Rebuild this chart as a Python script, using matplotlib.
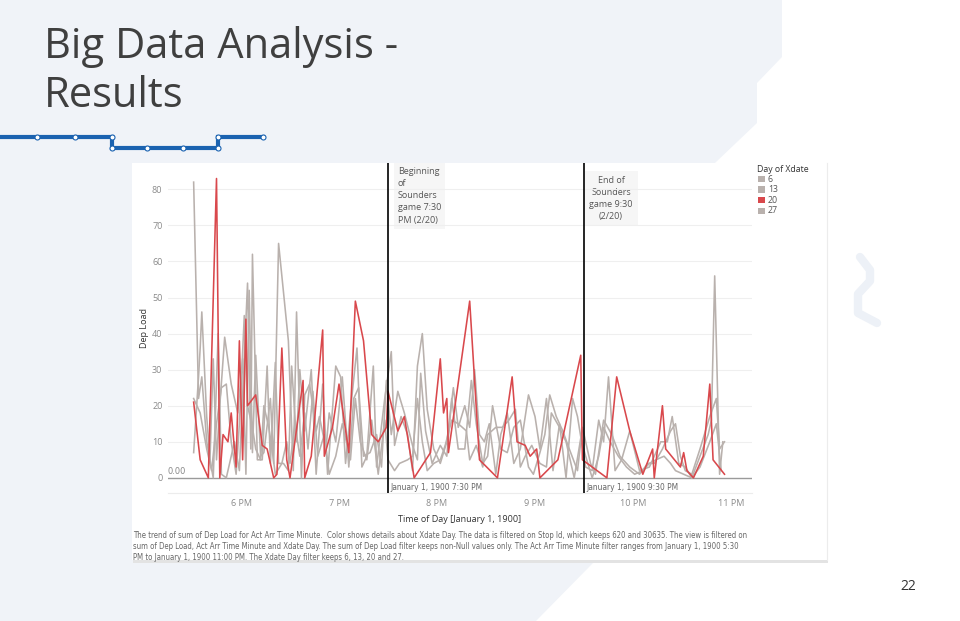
import matplotlib
matplotlib.use("Agg")
import matplotlib.pyplot as plt
from matplotlib.patches import Polygon, Rectangle
from matplotlib import font_manager
import numpy as np

# minutes after 5:00 PM (Act Arr Time Minute) and Dep Load, per Xdate day
days = ["6", "13", "20", "27"]
colors = ["#b9b1ad", "#b9b1ad", "#d9484c", "#b9b1ad"]

min_6 = [31, 34, 36, 39, 43, 46, 48, 51, 56, 59, 64, 66, 67, 70, 73, 76, 78, 81, 83, 86,
         89, 91, 94, 96, 99, 103, 106, 110, 113, 118, 121, 124, 128, 131, 134, 137, 141, 143,
         148, 152, 154, 158, 162, 165, 168, 171, 174, 178, 182, 186, 190, 193, 197, 200, 203,
         206, 209, 212, 216, 219, 223, 227, 231, 236, 240, 243, 247, 251, 255, 259, 263, 266,
         271, 275, 279, 282, 285, 289, 293, 298, 304, 310, 317, 321, 324, 328, 332, 336, 341,
         346, 348, 350, 353, 355]
load_6 = [82, 22, 28, 10, 0, 40, 1, 0, 10, 2, 54, 8, 62, 5, 5, 31, 4, 32, 4, 4,
          2, 31, 10, 30, 13, 30, 1, 26, 1, 31, 28, 4, 23, 36, 3, 6, 31, 3,
          22, 35, 9, 17, 12, 2, 31, 40, 19, 8, 4, 10, 25, 14, 20, 14, 30,
          12, 10, 15, 1, 12, 18, 4, 8, 23, 17, 8, 22, 2, 15, 0, 22, 17,
          3, 2, 16, 10, 28, 2, 5, 13, 2, 3, 10, 10, 17, 4, 3, 0, 6,
          12, 16, 56, 1, 10]

min_13 = [31, 34, 35, 36, 39, 41, 43, 45, 47, 50, 54, 58, 61, 63, 65, 67, 69, 72, 74, 78,
          80, 83, 89, 92, 94, 97, 99, 102, 106, 108, 112, 114, 118, 122, 126, 129, 132, 135,
          139, 143, 146, 149, 152, 156, 160, 165, 168, 170, 173, 177, 182, 186, 189, 193, 197,
          201, 204, 208, 211, 214, 219, 223, 227, 231, 236, 239, 243, 246, 249, 253, 257, 261,
          266, 269, 274, 277, 282, 287, 292, 298, 304, 309, 313, 318, 323, 326, 329, 332, 336,
          341, 347, 351, 353, 356]
load_13 = [7, 28, 36, 46, 17, 5, 33, 5, 20, 39, 26, 18, 33, 1, 52, 7, 34, 6, 7, 22,
           4, 65, 38, 2, 46, 0, 23, 26, 13, 17, 8, 18, 10, 28, 3, 22, 25, 6,
           7, 12, 3, 27, 12, 24, 18, 9, 5, 29, 13, 4, 9, 6, 22, 8, 8,
           27, 15, 4, 6, 20, 8, 7, 14, 16, 3, 1, 7, 12, 23, 17, 13, 8,
           2, 14, 4, 1, 16, 12, 6, 3, 1, 4, 4, 8, 13, 15, 6, 2, 1,
           8, 17, 22, 8, 10]

min_20 = [31, 35, 40, 45, 47, 49, 52, 54, 57, 59, 61, 63, 64, 69, 73, 76, 80, 82, 85, 88,
          90, 98, 99, 103, 110, 111, 116, 120, 126, 130, 135, 140, 144, 149, 150, 156, 160,
          166, 176, 182, 184, 186, 187, 200, 206, 217, 226, 229, 234, 237, 241, 243, 254, 268,
          269, 284, 290, 298, 306, 312, 313, 318, 320, 329, 331, 333, 337, 343, 347, 349, 356]
load_20 = [21, 5, 0, 83, 0, 12, 10, 18, 3, 38, 5, 44, 20, 23, 9, 8, 0, 1, 36, 5,
           0, 27, 0, 6, 41, 6, 14, 26, 7, 49, 38, 12, 10, 14, 24, 13, 17,
           0, 7, 33, 18, 22, 7, 49, 5, 0, 28, 10, 9, 6, 8, 0, 5, 34,
           5, 0, 28, 13, 1, 8, 0, 20, 8, 3, 7, 2, 0, 6, 26, 5, 1]

min_27 = [31, 35, 39, 42, 45, 48, 51, 54, 57, 59, 62, 64, 67, 69, 72, 74, 77, 79, 81, 85,
          88, 90, 93, 96, 99, 101, 104, 107, 111, 114, 118, 122, 127, 130, 133, 137, 140, 144,
          148, 150, 154, 157, 162, 165, 168, 171, 174, 178, 182, 185, 189, 193, 198, 200, 204,
          208, 211, 216, 220, 224, 228, 231, 234, 238, 243, 247, 250, 255, 259, 264, 268, 271,
          275, 279, 282, 286, 291, 296, 301, 306, 310, 314, 319, 323, 326, 331, 336, 341, 347,
          351, 354]
load_27 = [22, 18, 8, 2, 15, 25, 26, 10, 1, 15, 45, 20, 14, 8, 5, 20, 14, 8, 1, 4,
           10, 4, 15, 6, 18, 8, 24, 6, 12, 1, 6, 15, 5, 22, 10, 5, 16, 1,
           16, 5, 2, 4, 5, 6, 22, 10, 2, 4, 5, 9, 16, 15, 13, 5, 9,
           3, 12, 14, 14, 16, 19, 3, 6, 9, 4, 3, 18, 14, 10, 0, 11, 6,
           0, 6, 14, 10, 6, 3, 1, 2, 4, 5, 6, 4, 2, 1, 0, 3, 10,
           15, 2]

series_min = [min_6, min_13, min_20, min_27]
series_load = [load_6, load_13, load_20, load_27]

yticks = [0, 10, 20, 30, 40, 50, 60, 70, 80]
xticks = [18, 19, 20, 21, 22, 23]
xtick_labels = ["6 PM", "7 PM", "8 PM", "9 PM", "10 PM", "11 PM"]
ref_hours = [19.5, 21.5]
ref_labels = ["January 1, 1900 7:30 PM", "January 1, 1900 9:30 PM"]

caption = ["The trend of sum of Dep Load for Act Arr Time Minute.  Color shows details about Xdate Day. The data is filtered on Stop Id, which keeps 620 and 30635. The view is filtered on",
           "sum of Dep Load, Act Arr Time Minute and Xdate Day. The sum of Dep Load filter keeps non-Null values only. The Act Arr Time Minute filter ranges from January 1, 1900 5:30",
           "PM to January 1, 1900 11:00 PM. The Xdate Day filter keeps 6, 13, 20 and 27."]

plt.rcParams['font.family'] = ['Open Sans', 'DejaVu Sans']
installed = {f.name for f in font_manager.fontManager.ttflist}
narrow = 'Liberation Sans Narrow' if 'Liberation Sans Narrow' in installed else 'DejaVu Sans'

fig = plt.figure(figsize=(9.6, 6.21), dpi=100)
bg = fig.add_axes([0, 0, 1, 1])
bg.set_xlim(0, 960)
bg.set_ylim(621, 0)
bg.axis('off')

# slide background
light = "#f0f3f8"
bg.add_patch(Polygon([(0, 0), (782, 0), (782, 57), (757, 83), (757, 123), (715, 163),
                      (690, 190), (690, 470), (594, 562), (536, 621), (0, 621)],
                     closed=True, fc=light, ec='none', zorder=0))
bg.plot([860, 870, 870, 858, 858, 877], [257, 270, 281, 294, 313, 323],
        color="#edf1f7", lw=6, solid_capstyle='round', solid_joinstyle='round', zorder=0)

# title
bg.text(44, 58, "Big Data Analysis -", fontsize=30, color="#3f3f3f", va='baseline')
bg.text(44, 107, "Results", fontsize=30, color="#3f3f3f", va='baseline')

# metro line decoration
blue = "#1a62b0"
bg.plot([0, 112, 112, 218, 218, 263], [137, 137, 148, 148, 137, 137],
        color=blue, lw=3, solid_joinstyle='miter', zorder=2)
for cx, cy in [(37, 137), (75, 137), (112, 137), (112, 148), (147, 148), (183, 148),
               (218, 148), (218, 137), (263, 137)]:
    bg.plot(cx, cy, 'o', ms=3.6, mfc='white', mec=blue, mew=0.8, zorder=3)

# white card with shadow
bg.add_patch(Rectangle((133, 165), 695, 398, fc="#e3e3e3", ec='none', zorder=1))
bg.add_patch(Rectangle((132, 163), 695, 397, fc="white", ec='none', zorder=1))
bg.plot([827, 827], [163, 560], color="#ececec", lw=0.8, zorder=1)

# chart
ax = fig.add_axes([168 / 960, (621 - 493) / 621, 584 / 960, 330 / 621])
ax.set_facecolor('none')
for y in yticks[1:]:
    ax.axhline(y, color="#efefef", lw=0.8, zorder=0)
ax.axhline(0, color="#9a9a9a", lw=1.0, zorder=1)
order = [0, 1, 3, 2]
for i in order:
    hrs = 17 + np.array(series_min[i]) / 60
    ax.plot(hrs, series_load[i], color=colors[i], lw=1.15, zorder=2)
for h in ref_hours:
    ax.axvline(h, color="black", lw=1.2, zorder=3)
for h, lab in zip(ref_hours, ref_labels):
    ax.text(h + 0.02, -2.6, lab, fontsize=6, color="#666666", va='center', ha='left',
            family=[narrow, 'DejaVu Sans'], fontstretch='condensed')
ax.text(17.255, 1.9, "0.00", fontsize=6, color="#888888", va='center', ha='left',
        family=[narrow, 'DejaVu Sans'])

ax.set_xlim(17.255, 23.214)
ax.set_ylim(-4.2, 87.3)
ax.set_yticks(yticks)
ax.set_xticks(xticks)
ax.set_xticklabels(xtick_labels)
ax.tick_params(length=0, labelsize=6.5, labelcolor="#8a8a8a", pad=4)
for s in ['top', 'left', 'right']:
    ax.spines[s].set_visible(False)
ax.spines['bottom'].set_color("#ececec")
ax.spines['bottom'].set_linewidth(0.8)
ax.set_ylabel("Dep Load", fontsize=6.5, color="#333333", labelpad=2)
ax.set_xlabel("Time of Day [January 1, 1900]", fontsize=6.5, color="#333333", labelpad=5)

# annotations
bg.text(398, 167, "Beginning\nof\nSounders\ngame 7:30\nPM (2/20)", fontsize=6.5,
        color="#555555", va='top', ha='left', linespacing=1.45,
        bbox=dict(boxstyle='square,pad=0.45', fc="#f6f6f6", ec='none'), zorder=4)
bg.text(611, 176, "End of\nSounders\ngame 9:30\n(2/20)", fontsize=6.5,
        color="#555555", va='top', ha='center', linespacing=1.45,
        bbox=dict(boxstyle='square,pad=0.55', fc="#f6f6f6", ec='none'), zorder=4)

# legend
bg.text(757, 169, "Day of Xdate", fontsize=6.3, color="#333333", va='center', ha='left', zorder=4)
for k, (d, c) in enumerate(zip(days, colors)):
    yy = 179 + k * 10.6
    bg.add_patch(Rectangle((758, yy - 3.3), 6.6, 6.6, fc=c, ec='none', zorder=4))
    bg.text(768, yy, d, fontsize=6.3, color="#555555", va='center', ha='left', zorder=4)

# caption, fitted to the card width
r = fig.canvas.get_renderer()
for k, line in enumerate(caption):
    t = bg.text(133, 535 + k * 11.5, line, fontsize=6, color="#666666", va='center', ha='left',
                family=[narrow, 'DejaVu Sans'], fontstretch='condensed', zorder=4)
    if k == 0:
        w = t.get_window_extent(renderer=r).width
        cap_size = 6 * 615 / w
    t.set_fontsize(cap_size)

bg.text(908, 587, "22", fontsize=10, color="#333333", ha='center', va='center')

fig.savefig("out.png", dpi=100)
